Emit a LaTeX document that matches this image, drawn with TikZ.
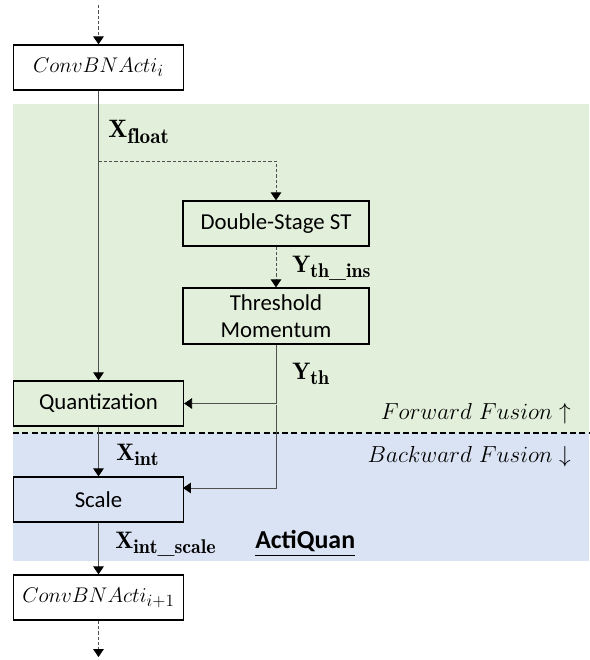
\RequirePackage{fix-cm}
\documentclass[tikz,border=0pt]{standalone}
\usepackage{amsmath}
\usepackage{fontspec}
\setsansfont{Carlito}
\usetikzlibrary{arrows.meta}

\DeclareMathSizes{16}{16}{13}{10}
\DeclareMathSizes{17.5}{17.5}{13}{10}
\DeclareMathSizes{18}{18}{15}{11}
\DeclareMathSizes{19}{19}{16}{12}

\definecolor{fwdgreen}{HTML}{E2EFDA}
\definecolor{bwdblue}{HTML}{DAE3F3}
\definecolor{wiregray}{HTML}{505050}

\newcommand{\bsub}{\text{\bfseries\_}}

\begin{document}
\begin{tikzpicture}[x=0.0265cm, y=-0.0265cm,
    block/.style={draw, line width=1.1pt, minimum width=4.5cm, minimum height=1.19cm,
        inner sep=2pt, align=center, font=\sffamily\fontsize{17.2}{20}\selectfont},
    mblock/.style={block, font=\fontsize{16}{18}\selectfont},
    wire/.style={draw=wiregray, line width=0.6pt, -{Triangle[length=6pt,width=8pt,color=black]}},
    dwire/.style={wire, dash pattern=on 2.5pt off 1.5pt},
    lbl/.style={inner sep=0pt, anchor=base west, font=\fontsize{18}{20}\selectfont},
    fusion/.style={inner sep=0pt, anchor=base east, font=\fontsize{17.5}{20}\selectfont}]
\useasboundingbox (0,0) rectangle (589,660);

%% Fusion regions
\fill[fwdgreen] (13,104) rectangle (589,433);
\fill[bwdblue] (13,433) rectangle (589,561);
\draw[line width=1.1pt, dash pattern=on 4.5pt off 2.5pt] (13,433) -- (589,433);

%% Blocks
\node[mblock] (convi) at (98.5,67.5) {$ConvBNActi_i$};
\node[block, minimum width=4.93cm] (ds) at (276,223.5) {Double-Stage ST};
\node[block, minimum width=4.93cm, minimum height=1.48cm] (tm) at (276,316)
    {Threshold\\Momentum};
\node[block] (quant) at (98.5,403.5) {Quantization};
\node[block] (scale) at (98.5,499.5) {Scale};
\node[mblock] (convii) at (98.5,597.5) {$ConvBNActi_{i+1}$};

%% Labels
\node[lbl, font=\fontsize{19}{21}\selectfont] (xfloat) at (108,137) {$\mathbf{X}_{\mathbf{float}}$};
\node[lbl] (ythins) at (292,272) {$\mathbf{Y}_{\mathbf{th}\bsub\mathbf{ins}}$};
\node[lbl] (yth) at (292,379) {$\mathbf{Y}_{\mathbf{th}}$};
\node[lbl] (xint) at (116,460) {$\mathbf{X}_{\mathbf{int}}$};
\node[lbl] (xintscale) at (115,548) {$\mathbf{X}_{\mathbf{int}\bsub\mathbf{scale}}$};
\node[lbl, font=\sffamily\bfseries\fontsize{19.5}{21}\selectfont] (actiquan) at (255,548)
    {\underline{ActiQuan}};
\node[fusion] (fwd) at (571,419) {$Forward\ Fusion\uparrow$};
\node[fusion] (bwd) at (571,462) {$Backward\ Fusion\downarrow$};

%% Connectors
\coordinate (in) at (98.5,5);
\coordinate (split) at (98.5,161);
\coordinate (hop) at (276,405);
\coordinate (scalein) at (183,488);
\coordinate (out) at (98.5,657);
\draw[dwire] (in) -- (convi);
\draw[wire] (convi) -- (quant);
\draw[dwire] (split) -| (ds);
\draw[dwire] (ds) -- (tm);
\draw[wire] (tm) |- (quant);
\draw[wire] (hop) |- (scalein);
\draw[wire] (quant) -- (scale);
\draw[wire] (scale) -- (convii);
\draw[dwire] (convii) -- (out);
\end{tikzpicture}
\end{document}
